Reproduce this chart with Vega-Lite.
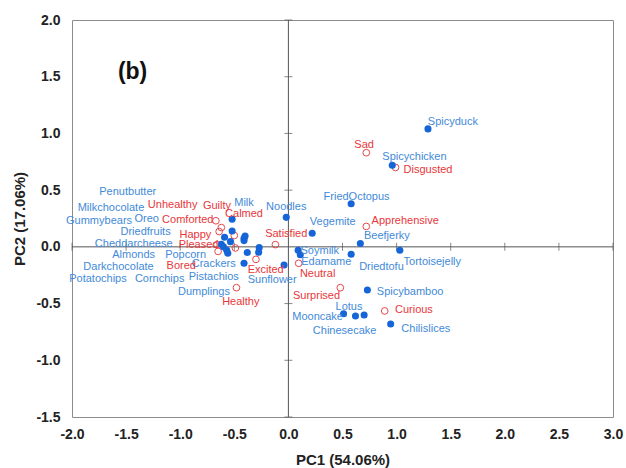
{
"$schema": "https://vega.github.io/schema/vega-lite/v6.json",
"width": 541, "height": 397,
"autosize": "none",
"padding": {"left": 72, "top": 20, "right": 13, "bottom": 51},
"background": "white",
"config": {"view": {"stroke": "#8c8c8c", "strokeWidth": 1}, "font": "Liberation Sans"},
"datasets": {
"pts": [
{"name":"Milk","type":"food","pc1":-0.52,"pc2":0.243,"lx":-0.41,"ly":0.385},
{"name":"Oreo","type":"food","pc1":-0.52,"pc2":0.14,"lx":-1.31,"ly":0.25},
{"name":"Driedfruits","type":"food","pc1":-0.59,"pc2":0.085,"lx":-1.32,"ly":0.13},
{"name":"Gummybears","type":"food","pc1":-0.535,"pc2":0.046,"lx":-1.75,"ly":0.23},
{"name":"Penutbutter","type":"food","pc1":-0.41,"pc2":0.076,"lx":-1.485,"ly":0.48},
{"name":"Milkchocolate","type":"food","pc1":-0.41,"pc2":0.055,"lx":-1.64,"ly":0.34},
{"name":"Cheddarcheese","type":"food","pc1":-0.40,"pc2":0.095,"lx":-1.43,"ly":0.025},
{"name":"Almonds","type":"food","pc1":-0.62,"pc2":0.023,"lx":-1.43,"ly":-0.07},
{"name":"Darkchocolate","type":"food","pc1":-0.57,"pc2":-0.03,"lx":-1.57,"ly":-0.18},
{"name":"Potatochips","type":"food","pc1":-0.56,"pc2":-0.056,"lx":-1.76,"ly":-0.28},
{"name":"Cornchips","type":"food","pc1":-0.60,"pc2":0.0,"lx":-1.19,"ly":-0.28},
{"name":"Popcorn","type":"food","pc1":-0.38,"pc2":-0.05,"lx":-0.95,"ly":-0.07},
{"name":"Crackers","type":"food","pc1":-0.27,"pc2":-0.007,"lx":-0.69,"ly":-0.155},
{"name":"Pistachios","type":"food","pc1":-0.275,"pc2":-0.048,"lx":-0.69,"ly":-0.265},
{"name":"Dumplings","type":"food","pc1":-0.41,"pc2":-0.145,"lx":-0.78,"ly":-0.40},
{"name":"Sunflower","type":"food","pc1":-0.04,"pc2":-0.16,"lx":-0.15,"ly":-0.29},
{"name":"Noodles","type":"food","pc1":-0.02,"pc2":0.26,"lx":-0.02,"ly":0.355},
{"name":"Vegemite","type":"food","pc1":0.22,"pc2":0.12,"lx":0.41,"ly":0.22},
{"name":"FriedOctopus","type":"food","pc1":0.58,"pc2":0.38,"lx":0.63,"ly":0.44},
{"name":"Beefjerky","type":"food","pc1":0.665,"pc2":0.03,"lx":0.91,"ly":0.10},
{"name":"Tortoisejelly","type":"food","pc1":1.03,"pc2":-0.03,"lx":1.33,"ly":-0.13},
{"name":"Driedtofu","type":"food","pc1":0.58,"pc2":-0.065,"lx":0.86,"ly":-0.175},
{"name":"Soymilk","type":"food","pc1":0.09,"pc2":-0.03,"lx":0.29,"ly":-0.035},
{"name":"Edamame","type":"food","pc1":0.11,"pc2":-0.07,"lx":0.35,"ly":-0.13},
{"name":"Spicybamboo","type":"food","pc1":0.73,"pc2":-0.38,"lx":1.125,"ly":-0.40},
{"name":"Mooncake","type":"food","pc1":0.51,"pc2":-0.59,"lx":0.27,"ly":-0.615},
{"name":"Lotus","type":"food","pc1":0.62,"pc2":-0.61,"lx":0.56,"ly":-0.53},
{"name":"Chinesecake","type":"food","pc1":0.70,"pc2":-0.60,"lx":0.52,"ly":-0.74},
{"name":"Chilislices","type":"food","pc1":0.945,"pc2":-0.68,"lx":1.27,"ly":-0.72},
{"name":"Spicyduck","type":"food","pc1":1.29,"pc2":1.04,"lx":1.52,"ly":1.10},
{"name":"Spicychicken","type":"food","pc1":0.96,"pc2":0.72,"lx":1.165,"ly":0.79},
{"name":"Unhealthy","type":"emotion","pc1":-0.67,"pc2":0.23,"lx":-1.07,"ly":0.37},
{"name":"Guilty","type":"emotion","pc1":-0.62,"pc2":0.17,"lx":-0.66,"ly":0.36},
{"name":"Comforted","type":"emotion","pc1":-0.64,"pc2":0.135,"lx":-0.93,"ly":0.237},
{"name":"Calmed","type":"emotion","pc1":-0.50,"pc2":0.10,"lx":-0.41,"ly":0.29},
{"name":"Happy","type":"emotion","pc1":-0.66,"pc2":0.02,"lx":-0.86,"ly":0.105},
{"name":"Pleased","type":"emotion","pc1":-0.49,"pc2":-0.01,"lx":-0.83,"ly":0.017},
{"name":"Bored","type":"emotion","pc1":-0.65,"pc2":-0.04,"lx":-0.99,"ly":-0.17},
{"name":"Satisfied","type":"emotion","pc1":-0.12,"pc2":0.02,"lx":-0.02,"ly":0.11},
{"name":"Excited","type":"emotion","pc1":-0.30,"pc2":-0.11,"lx":-0.21,"ly":-0.20},
{"name":"Healthy","type":"emotion","pc1":-0.48,"pc2":-0.36,"lx":-0.44,"ly":-0.49},
{"name":"Neutral","type":"emotion","pc1":0.095,"pc2":-0.145,"lx":0.27,"ly":-0.24},
{"name":"Surprised","type":"emotion","pc1":0.48,"pc2":-0.36,"lx":0.26,"ly":-0.43},
{"name":"Curious","type":"emotion","pc1":0.89,"pc2":-0.565,"lx":1.16,"ly":-0.56},
{"name":"Apprehensive","type":"emotion","pc1":0.72,"pc2":0.18,"lx":1.08,"ly":0.23},
{"name":"Sad","type":"emotion","pc1":0.72,"pc2":0.83,"lx":0.70,"ly":0.90},
{"name":"Disgusted","type":"emotion","pc1":0.99,"pc2":0.70,"lx":1.29,"ly":0.68}
],
"xticks": [{"v":-2},{"v":-1.5},{"v":-1},{"v":-0.5},{"v":0.5},{"v":1},{"v":1.5},{"v":2},{"v":2.5},{"v":3}],
"yticks": [{"v":-1.5},{"v":-1},{"v":-0.5},{"v":0.5},{"v":1},{"v":1.5},{"v":2}]
},
"layer": [
{
"data": {"values": [{"v": 0}]},
"mark": {"type": "rule", "color": "#555555", "strokeWidth": 1},
"encoding": {
"x": {"field": "v", "type": "quantitative",
"scale": {"domain": [-2, 3], "nice": false, "zero": false},
"axis": {"values": [-2,-1.5,-1,-0.5,0,0.5,1,1.5,2,2.5,3], "labelExpr": "replace(format(datum.value, '.1f'), '\u2212', '-')",
"labelFlush": false, "labelOverlap": false,
"ticks": false, "domain": false, "grid": false, "labelFontSize": 14, "labelFontWeight": "bold", "labelColor": "#222222", "labelPadding": 10,
"title": "PC1 (54.06%)", "titleFontSize": 15, "titleFontWeight": "bold", "titleColor": "#222222", "titlePadding": 11}}
}
},
{
"data": {"values": [{"v": 0}]},
"mark": {"type": "rule", "color": "#555555", "strokeWidth": 1},
"encoding": {
"y": {"field": "v", "type": "quantitative",
"scale": {"domain": [-1.5, 2], "nice": false, "zero": false},
"axis": {"values": [-1.5,-1,-0.5,0,0.5,1,1.5,2], "labelExpr": "replace(format(datum.value, '.1f'), '\u2212', '-')",
"labelFlush": false, "labelOverlap": false,
"ticks": false, "domain": false, "grid": false, "labelFontSize": 14, "labelFontWeight": "bold", "labelColor": "#222222", "labelPadding": 12,
"title": "PC2 (17.06%)", "titleFontSize": 15, "titleFontWeight": "bold", "titleColor": "#222222", "titlePadding": 8}}
}
},
{
"data": {"name": "yticks"},
"mark": {"type": "tick", "orient": "horizontal", "size": 8, "thickness": 1, "color": "#555555"},
"encoding": {"x": {"datum": 0, "type": "quantitative"}, "y": {"field": "v", "type": "quantitative"}}
},
{
"data": {"name": "xticks"},
"mark": {"type": "tick", "orient": "vertical", "size": 8, "thickness": 1, "color": "#555555"},
"encoding": {"x": {"field": "v", "type": "quantitative"}, "y": {"datum": 0, "type": "quantitative"}}
},
{
"data": {"name": "pts"},
"transform": [{"filter": "datum.type === 'emotion'"}],
"mark": {"type": "point", "shape": "circle", "filled": false, "size": 45, "stroke": "#e8474b", "strokeWidth": 1, "opacity": 1},
"encoding": {"x": {"field": "pc1", "type": "quantitative"}, "y": {"field": "pc2", "type": "quantitative"}}
},
{
"data": {"name": "pts"},
"transform": [{"filter": "datum.type === 'food'"}],
"mark": {"type": "point", "shape": "circle", "filled": true, "size": 50, "color": "#1565d8", "opacity": 1},
"encoding": {"x": {"field": "pc1", "type": "quantitative"}, "y": {"field": "pc2", "type": "quantitative"}}
},
{
"data": {"name": "pts"},
"mark": {"type": "text", "fontSize": 11, "align": "center", "baseline": "middle"},
"encoding": {
"x": {"field": "lx", "type": "quantitative"},
"y": {"field": "ly", "type": "quantitative"},
"text": {"field": "name"},
"color": {"field": "type", "type": "nominal", "scale": {"domain": ["food", "emotion"], "range": ["#3f8ad8", "#e8363a"]}, "legend": null}
}
},
{
"data": {"values": [{"t": "(b)"}]},
"mark": {"type": "text", "fontSize": 23, "fontWeight": "bold", "align": "center", "baseline": "middle", "color": "#111111"},
"encoding": {"x": {"datum": -1.44}, "y": {"datum": 1.54}, "text": {"field": "t"}}
}
]
}
